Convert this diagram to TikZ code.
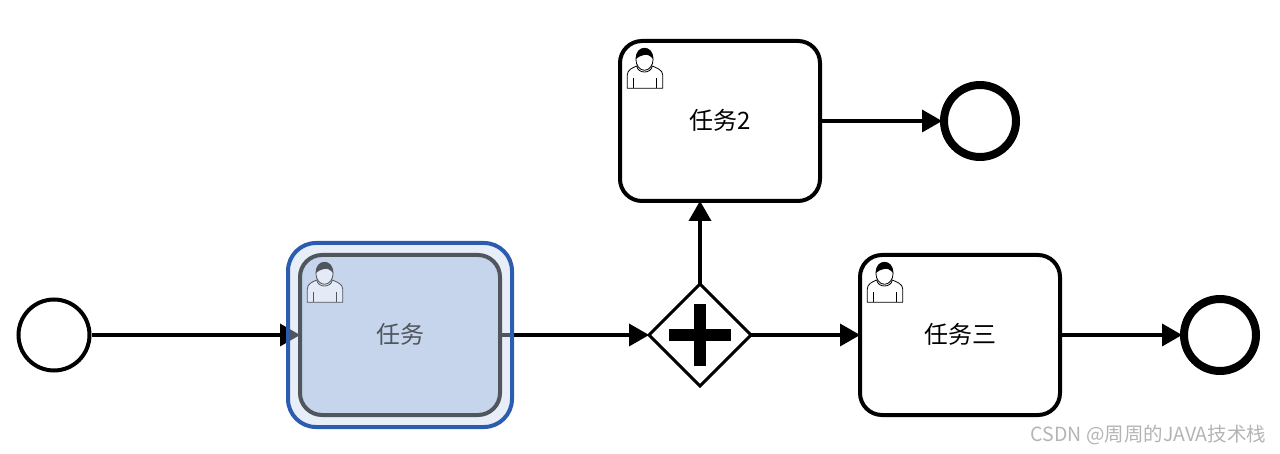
\documentclass[tikz,border=0pt]{standalone}
\usepackage{fontspec}
\setmainfont{Noto Sans CJK SC}
\usetikzlibrary{arrows.meta,shapes.geometric,backgrounds}
\definecolor{hlblue}{HTML}{2B5CB0}
\definecolor{hlfill}{HTML}{C6D5EC}
\definecolor{hlink}{HTML}{50565E}
\definecolor{hlbody}{HTML}{E4EBF6}
\definecolor{wmgray}{HTML}{B4B4B4}

\begin{document}
\begin{tikzpicture}[x=1pt, y=-1pt, font=\fontsize{24}{26}\selectfont,
  task/.style={draw, line width=4pt, rounded corners=22pt, fill=white, minimum width=200pt, minimum height=160pt, inner sep=0pt, outer sep=0pt, align=center},
  startev/.style={circle, draw, line width=4pt, fill=white, minimum size=71pt, inner sep=0pt},
  endev/.style={circle, draw, line width=8pt, fill=white, minimum size=72pt, inner sep=0pt, outer sep=2pt},
  gate/.style={diamond, draw, line width=3pt, fill=white, aspect=1, minimum width=102pt, minimum height=102pt, inner sep=0pt, outer sep=0pt},
  plusbar/.style={fill=black, inner sep=0pt},
  arr/.style={-{Triangle[length=20pt, width=23pt, line width=0pt]}, line width=4pt},
  pics/user/.style 2 args={code={
    \draw[#1, line width=0.8pt, fill=#2, line join=round] (7.3,47.3) -- (7.3,34) .. controls (7.3,29) and (12,27) .. (16.7,25) -- (32.3,25) .. controls (37,27) and (42.7,29) .. (42.7,34) -- (42.7,47.3) -- cycle;
    \draw[#1, line width=0.8pt, fill=#2] (24.5,18.3) ellipse [x radius=8.6, y radius=11];
    \fill[#1] (15.9,18) .. controls (15.9,10) and (20,7) .. (24.5,7) .. controls (29,7) and (33.1,10) .. (33.1,18) .. controls (30,14.5) and (27,13) .. (24,14) .. controls (21,15) and (18,15.5) .. (15.9,18) -- cycle;
    \draw[#1, line width=0.8pt] (16.7,25) .. controls (18,33) and (31,33) .. (32.3,25);
    \draw[#1, line width=0.8pt] (13.3,37) -- (13.3,47.3) (36.7,37) -- (36.7,47.3);
  }}]
  \useasboundingbox (0,0) rectangle (1280,454);
  % start and first task
  \node[startev] (st) at (54,335) {};
  \node[draw=hlblue, line width=4pt, rounded corners=28pt, fill=hlfill, fill opacity=0.4, draw opacity=1, minimum width=224pt, minimum height=184pt, inner sep=0pt] (hl) at (400,335) {};
  \node[task, draw=hlink, fill=hlfill, text=hlink] (t1) at (400,335) {\raisebox{3pt}{任务}};
  % gateway
  \node[gate] (gw) at (700,335) {};
  \node[plusbar, minimum width=62pt, minimum height=12pt] (gwh) at (gw.center) {};
  \node[plusbar, minimum width=12pt, minimum height=62pt] (gwv) at (gw.center) {};
  % other tasks and ends
  \node[task] (t2) at (720,121) {\raisebox{4pt}{任务2}};
  \node[task] (t3) at (960,335) {\raisebox{3pt}{任务三}};
  \node[endev] (e1) at (980,121) {};
  \node[endev] (e2) at (1220,335) {};
  \pic[shift={(-100,-80)}] at (t1.center) {user={hlink}{hlbody}};
  \pic[shift={(-100,-80)}] at (t2.center) {user={black}{white}};
  \pic[shift={(-100,-80)}] at (t3.center) {user={black}{white}};
  \node[font=\fontsize{19.5}{22}\selectfont, text=wmgray, inner sep=0pt] (wm) at (1148.5,435) {CSDN @周周的JAVA技术栈};
  \begin{scope}[on background layer]
    \draw[arr] (st) -- (t1);
    \draw[arr] (t1) -- (gw);
    \draw[arr] (gw) -- (t3);
    \draw[arr] (gw.north) -- (gw.north |- t2.south);
    \draw[arr] (t2) -- (e1);
    \draw[arr] (t3) -- (e2);
  \end{scope}
\end{tikzpicture}
\end{document}
